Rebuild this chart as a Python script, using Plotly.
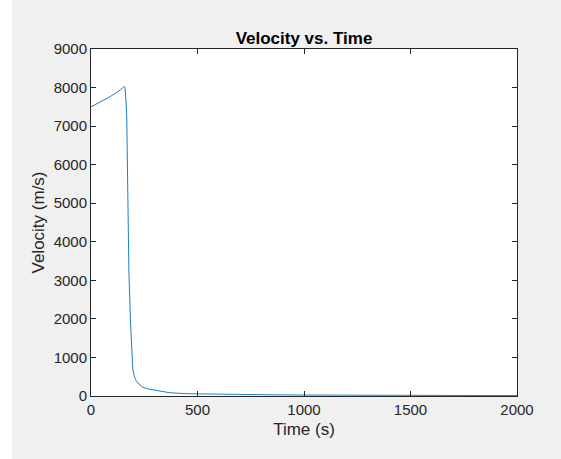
import plotly.graph_objects as go

# Data
time_s = [0, 20, 40, 60, 80, 100, 120, 140, 150, 155, 160, 163, 165, 168, 170,
          173, 178, 185, 190, 196, 205, 212, 225, 242, 270, 306, 340, 370, 450,
          550, 700, 850, 1000, 1200, 1500, 2000]
velocity = [7500, 7555, 7610, 7670, 7735, 7800, 7870, 7950, 8000, 8030, 7990,
            7850, 7600, 7200, 6300, 4600, 3200, 2000, 1300, 700, 480, 400, 310,
            230, 180, 145, 110, 85, 60, 48, 38, 30, 25, 20, 15, 10]

x_ticks = [0, 500, 1000, 1500, 2000]
y_ticks = [0, 1000, 2000, 3000, 4000, 5000, 6000, 7000, 8000, 9000]

FONT = "Liberation Sans, Arial, Helvetica, sans-serif"

fig = go.Figure()
fig.add_trace(go.Scatter(x=time_s, y=velocity, mode="lines",
                         line=dict(color="#0072BD", width=0.9), showlegend=False))

axis_common = dict(
    showgrid=False, zeroline=False, showline=True, linecolor="#262626", linewidth=1,
    mirror="ticks", ticks="inside", ticklen=5, tickcolor="#262626",
    tickfont=dict(family=FONT, size=15, color="#262626"),
)

fig.update_layout(
    width=561, height=459,
    margin=dict(l=91, r=44, t=49, b=63),
    paper_bgcolor="#f0f0f0", plot_bgcolor="white",
    title=dict(text="<b>Velocity vs. Time</b>", x=0.5, xanchor="center",
               xref="paper", y=1, yref="paper", yanchor="bottom", pad=dict(b=5),
               font=dict(family=FONT, size=17, color="black")),
    xaxis=dict(range=[0, 2000], tickvals=x_ticks,
               title=dict(text="Time (s)", standoff=6,
                          font=dict(family=FONT, size=17, color="#262626")),
               **axis_common),
    yaxis=dict(range=[0, 9000], tickvals=y_ticks,
               title=dict(text="Velocity (m/s)", standoff=4,
                          font=dict(family=FONT, size=17, color="#262626")),
               **axis_common),
    shapes=[dict(type="rect", xref="paper", yref="paper", x0=-0.25, x1=-0.186,
                 y0=-0.3, y1=1.2, fillcolor="white", line=dict(width=0), layer="below")],
)

fig.write_html("out.html", config={"displayModeBar": False},
               post_script="document.body.style.margin='0';")
